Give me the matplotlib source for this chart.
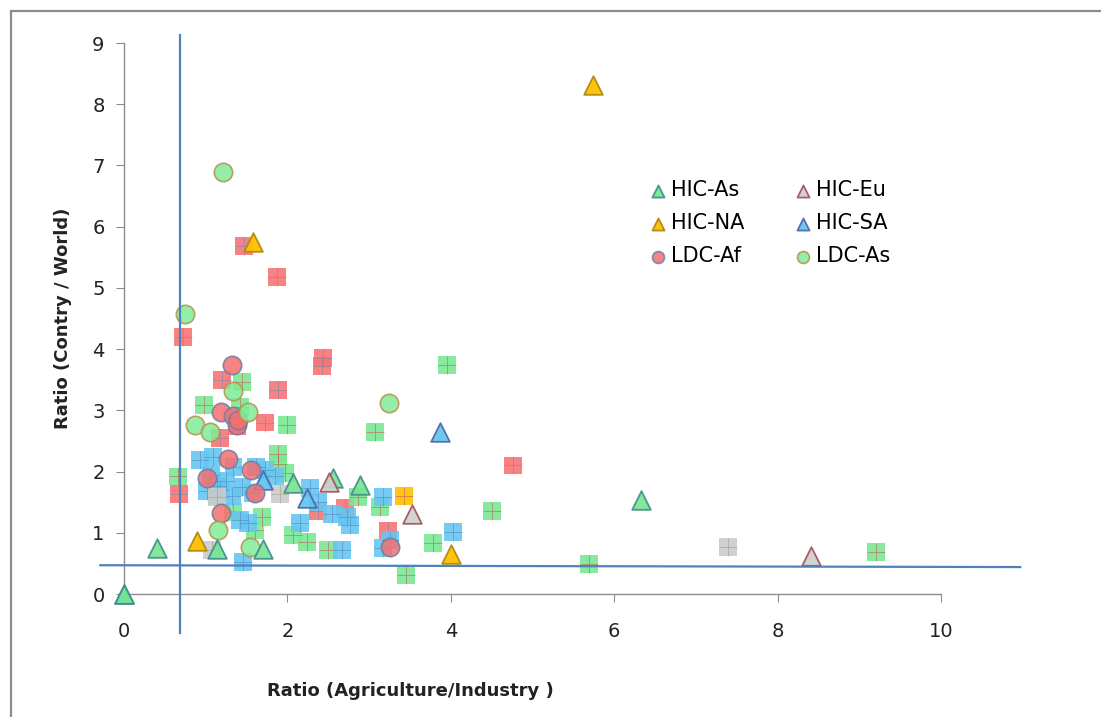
import matplotlib.pyplot as plt
import matplotlib.patches as mpatches

# legend series (triangles and circles)
hic_as_x = [0.0, 0.40, 1.14, 1.70, 2.07, 2.56, 2.89, 6.33]
hic_as_y = [0.0, 0.75, 0.73, 0.73, 1.81, 1.90, 1.78, 1.54]
hic_eu_x = [2.51, 3.53, 8.41]
hic_eu_y = [1.83, 1.31, 0.62]
hic_na_x = [5.74, 1.58, 0.89, 4.00]
hic_na_y = [8.32, 5.75, 0.87, 0.66]
hic_sa_x = [0.0, 3.87, 2.24, 1.70]
hic_sa_y = [0.0, 2.65, 1.57, 1.86]
ldc_af_x = [1.32, 1.19, 1.33, 1.38, 1.40, 1.27, 1.01, 1.55, 1.60, 1.19, 3.26]
ldc_af_y = [3.74, 2.97, 2.90, 2.76, 2.85, 2.20, 1.90, 2.03, 1.65, 1.32, 0.76]
ldc_as_x = [1.21, 0.75, 3.24, 1.33, 1.52, 0.87, 1.05, 1.15, 1.54]
ldc_as_y = [6.90, 4.57, 3.12, 3.32, 2.97, 2.76, 2.65, 1.05, 0.77]

# square "+" series (not in legend)
sq_red_x = [1.47, 1.87, 0.72, 2.44, 2.42, 1.20, 1.88, 1.73, 1.18, 0.67, 2.37, 2.70, 3.23, 4.76, 1.38]
sq_red_y = [5.69, 5.18, 4.20, 3.85, 3.72, 3.50, 3.33, 2.80, 2.55, 1.63, 1.36, 1.40, 1.03, 2.10, 2.75]
sq_green_x = [1.44, 0.98, 1.42, 2.00, 1.89, 1.97, 0.66, 1.33, 1.69, 1.60, 2.07, 2.24, 2.50,
              2.86, 3.13, 3.07, 3.95, 3.78, 3.45, 4.50, 5.69, 9.20, 1.89, 1.14]
sq_green_y = [3.46, 3.09, 3.06, 2.76, 2.29, 1.98, 1.92, 1.34, 1.26, 1.05, 0.97, 0.85, 0.72,
              1.59, 1.42, 2.65, 3.74, 0.83, 0.31, 1.36, 0.49, 0.69, 2.12, 1.60]
sq_blue_x = [0.93, 1.09, 1.34, 1.07, 1.01, 1.18, 1.32, 1.14, 1.62, 1.73, 1.85, 1.58, 2.28, 2.37,
             2.55, 2.73, 2.15, 2.77, 1.42, 1.52, 2.67, 3.17, 3.26, 3.17, 4.03, 1.46, 1.25, 1.45]
sq_blue_y = [2.19, 2.24, 2.08, 1.94, 1.68, 1.70, 1.60, 1.76, 2.08, 2.03, 1.92, 1.65, 1.73, 1.50,
             1.30, 1.26, 1.16, 1.13, 1.21, 1.16, 0.72, 1.59, 0.88, 0.75, 1.01, 0.52, 1.85, 1.75]
sq_orange_x = [3.43]
sq_orange_y = [1.60]
sq_gray_x = [7.39, 1.08, 1.91, 1.14]
sq_gray_y = [0.77, 0.72, 1.63, 1.58]

fig = plt.figure(figsize=(11.01, 7.17), dpi=100)
ax = fig.add_axes([124 / 1101, 1 - 594 / 717, 817 / 1101, 551 / 717])

# outer frame
fig.patches.append(mpatches.Rectangle((11 / 1101, -0.1), 1.2, 1.1 - 11 / 717,
                                      transform=fig.transFigure, fill=False,
                                      edgecolor='#8c8c8c', lw=1.6))

def squares(xs, ys, fill, cross):
    ax.scatter(xs, ys, marker='s', s=165, c=fill, edgecolors='none', alpha=0.9, zorder=2, clip_on=False)
    ax.scatter(xs, ys, marker='+', s=165, c=cross, linewidths=0.6, alpha=0.6, zorder=2, clip_on=False)

squares(sq_red_x, sq_red_y, '#f87474', '#6f86b8')
squares(sq_green_x, sq_green_y, '#7ae894', '#c0504d')
squares(sq_blue_x, sq_blue_y, '#66c6f0', '#4f81bd')
squares(sq_orange_x, sq_orange_y, '#ffc000', '#c0504d')
squares(sq_gray_x, sq_gray_y, '#cbcbcb', '#9a9a7a')

ax.scatter(hic_sa_x, hic_sa_y, marker='^', s=180, c='#5ec4ef', edgecolors='#4a66a8', linewidths=1.3,
           alpha=0.9, zorder=3, clip_on=False, label='HIC-SA')
ax.scatter(ldc_af_x, ldc_af_y, marker='o', s=175, c='#f56f6f', edgecolors='#6a7fa8', linewidths=1.2,
           alpha=0.85, zorder=3, clip_on=False, label='LDC-Af')
ax.scatter(ldc_as_x, ldc_as_y, marker='o', s=175, c='#80ec98', edgecolors='#b8904a', linewidths=1.2,
           alpha=0.85, zorder=3, clip_on=False, label='LDC-As')
ax.scatter(hic_as_x, hic_as_y, marker='^', s=180, c='#74e690', edgecolors='#3f8c8c', linewidths=1.3,
           alpha=0.9, zorder=4, clip_on=False, label='HIC-As')
ax.scatter(hic_eu_x, hic_eu_y, marker='^', s=180, c='#cfcfcf', edgecolors='#a0505a', linewidths=1.3,
           alpha=0.9, zorder=4, clip_on=False, label='HIC-Eu')
ax.scatter(hic_na_x, hic_na_y, marker='^', s=180, c='#ffc000', edgecolors='#b08a10', linewidths=1.3,
           alpha=0.95, zorder=4, clip_on=False, label='HIC-NA')

# reference lines
ax.plot([0.69, 0.69], [-0.64, 9.13], color='#4f81bd', lw=1.6, zorder=6, clip_on=False)
ax.plot([-0.29, 10.97], [0.47, 0.44], color='#4f81bd', lw=1.6, zorder=6, clip_on=False)

ax.set_xlim(0, 10)
ax.set_ylim(0, 9)
ax.set_xticks(range(0, 11, 2))
ax.set_yticks(range(0, 10))
for s in ['top', 'right']:
    ax.spines[s].set_visible(False)
for s in ['left', 'bottom']:
    ax.spines[s].set_color('#8c8c8c')
    ax.spines[s].set_linewidth(1.0)
ax.tick_params(direction='out', length=6, color='#8c8c8c', labelsize=14, labelcolor='#222222', pad=14)
ax.tick_params(axis='y', pad=8)
for lab in ax.get_xticklabels() + ax.get_yticklabels():
    lab.set_family('DejaVu Sans Condensed')

ax.set_xlabel('Ratio (Agriculture/Industry )', fontsize=13, fontweight='bold', color='#222222')
ax.set_ylabel('Ratio (Contry / World)', fontsize=13, fontweight='bold', color='#222222')
ax.xaxis.set_label_coords(0.35, -0.16)
ax.yaxis.set_label_coords(-0.064, 0.5)

handles, labels = ax.get_legend_handles_labels()
order = ['HIC-As', 'HIC-NA', 'LDC-Af', 'HIC-Eu', 'HIC-SA', 'LDC-As']
hmap = dict(zip(labels, handles))
leg = ax.legend([hmap[k] for k in order], order, ncol=2, frameon=False, fontsize=15,
                loc='upper left', bbox_to_anchor=(0.615, 0.785), handletextpad=0.05,
                columnspacing=2.2, labelspacing=0.62, markerscale=0.65, handlelength=1.2)

fig.savefig('out.png', dpi=100)
